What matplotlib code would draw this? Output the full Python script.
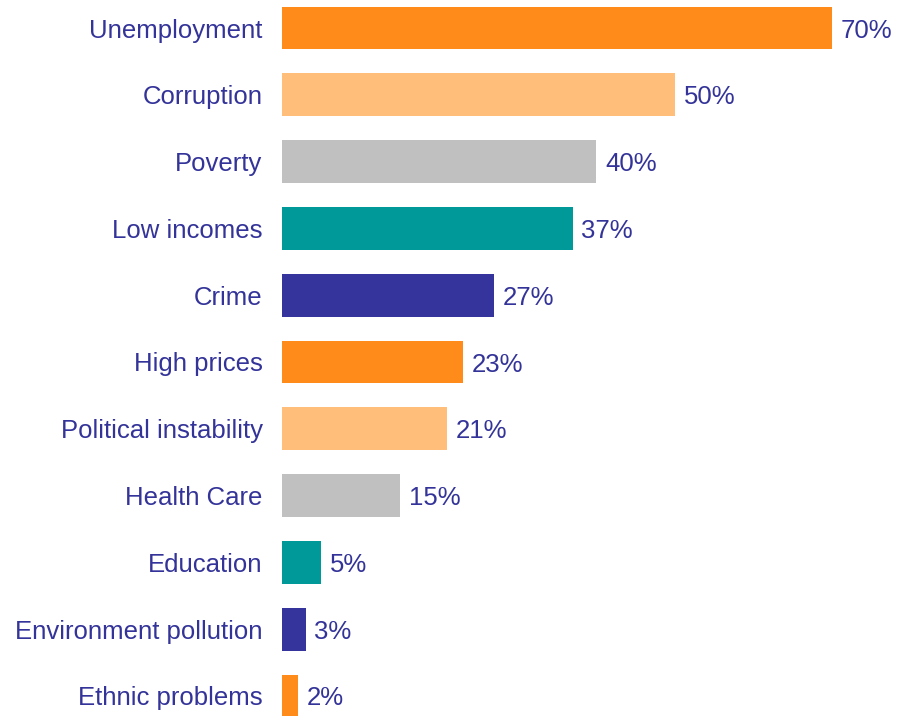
import matplotlib.pyplot as plt

categories = ["Unemployment", "Corruption", "Poverty", "Low incomes", "Crime",
              "High prices", "Political instability", "Health Care", "Education",
              "Environment pollution", "Ethnic problems"]
values = [70, 50, 40, 37, 27, 23, 21, 15, 5, 3, 2]
labels = ["70%", "50%", "40%", "37%", "27%", "23%", "21%", "15%", "5%", "3%", "2%"]

palette = ["#FF8C1A", "#FFBF7A", "#C0C0C0", "#00999A", "#35349C"]
colors = [palette[i % len(palette)] for i in range(len(values))]
text_color = "#333399"

plt.rcParams["font.family"] = ["Liberation Sans"]
fsize = 18.5

fig = plt.figure(figsize=(8.97, 7.16), dpi=100)
ax = fig.add_axes([282 / 897, 0, 615 / 897, 1])

y = list(range(len(values)))
ax.barh(y, values, height=0.64, color=colors)
ax.set_xlim(0, 615 / (550 / 70))
ax.set_ylim((716 - 28) / 66.8, -28 / 66.8)

for yi, v, lab in zip(y, values, labels):
    ax.text(v + 1.1, yi, lab, va="center_baseline", ha="left", color=text_color, fontsize=fsize)

ax.set_yticks(y)
ax.set_yticklabels(categories, color=text_color, fontsize=fsize)
ax.tick_params(axis="y", length=0, pad=14)
ax.set_xticks([])
for s in ax.spines.values():
    s.set_visible(False)

plt.savefig("out.png")
